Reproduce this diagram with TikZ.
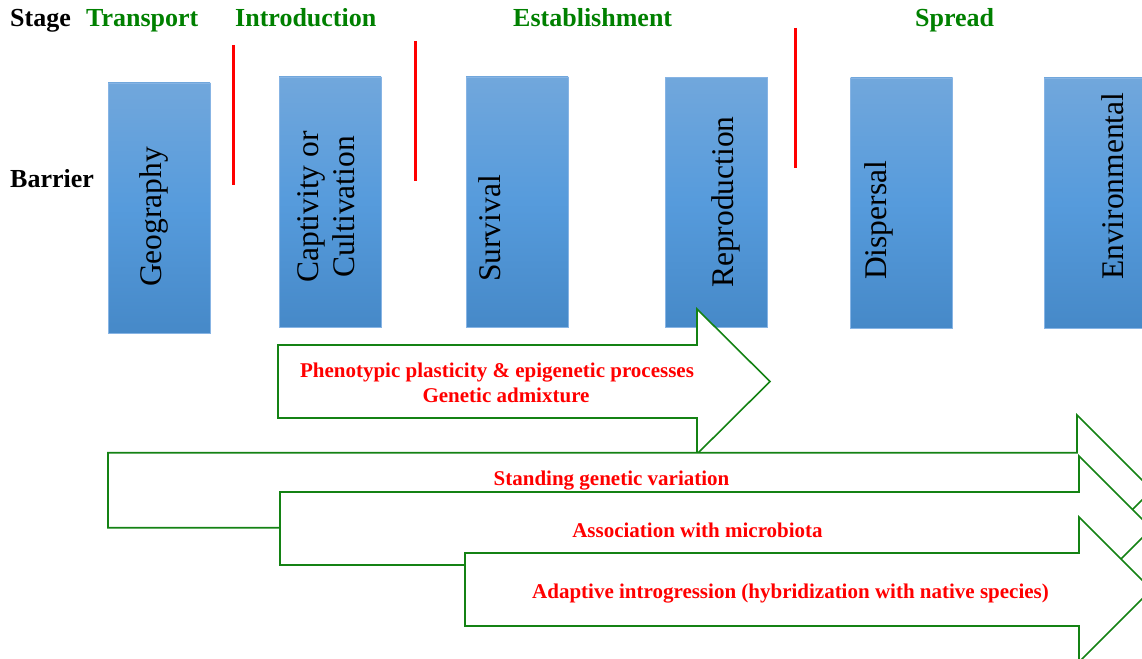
\documentclass[tikz,border=0pt]{standalone}
\usepackage{fontspec}
\setmainfont{Liberation Serif}
\definecolor{arrgreen}{RGB}{20,130,20}
\definecolor{titlegreen}{RGB}{0,128,0}
\definecolor{boxtop}{RGB}{113,167,220}
\definecolor{boxmid}{RGB}{86,155,220}
\definecolor{boxbot}{RGB}{70,137,200}
\definecolor{boxline}{RGB}{135,180,228}
\tikzset{
  barbox/.style={draw=boxline, line width=0.8pt, top color=boxtop, bottom color=boxbot, middle color=boxmid,
    minimum width=102pt, minimum height=250pt, inner sep=0pt},
  bartext/.style={rotate=90, anchor=base west, inner sep=0pt, font=\fontsize{31.5}{36}\selectfont},
  headtext/.style={anchor=base west, inner sep=0pt, font=\bfseries\fontsize{26}{30}\selectfont},
  stagetext/.style={headtext, text=titlegreen},
  redtext/.style={anchor=base, inner sep=0pt, font=\bfseries\fontsize{21}{25}\selectfont, text=red},
  bigarrow/.style={draw=arrgreen, line width=1.6pt, fill=white, line join=miter},
  divider/.style={draw=red, line width=3pt}
}
\begin{document}
\begin{tikzpicture}[x=1pt,y=-1pt]
\useasboundingbox (0,0) rectangle (1142,658);
\clip (0,0) rectangle (1142,658);

% headers
\node[headtext] (stage) at (10,27) {Stage};
\node[stagetext] (transport) at (86,27) {Transport};
\node[stagetext] (intro) at (235,27) {Introduction};
\node[stagetext] (estab) at (513,27) {Establishment};
\node[stagetext] (spread) at (915,27) {Spread};
\node[headtext] (barrier) at (10,187) {Barrier};

% dividers
\coordinate (d1a) at (233,45);  \coordinate (d1b) at (233,185);
\coordinate (d2a) at (415,41);  \coordinate (d2b) at (415,181);
\coordinate (d3a) at (795,28);  \coordinate (d3b) at (795,168);
\draw[divider] (d1a) -- (d1b);
\draw[divider] (d2a) -- (d2b);
\draw[divider] (d3a) -- (d3b);

% barrier boxes
\node[barbox] (geo) at (159,208) {};
\node[barbox] (cap) at (330,202) {};
\node[barbox] (sur) at (517,202) {};
\node[barbox] (rep) at (716,202.5) {};
\node[barbox] (dis) at (901.5,203) {};
\node[barbox] (env) at (1095,203) {};

\node[bartext] (geoT) at (161,287) {Geography};
\node[bartext, anchor=base, align=center] (capT) at (354,207) {Captivity or\\Cultivation};
\node[bartext] (surT) at (500,282) {Survival};
\node[bartext] (repT) at (733,288) {Reproduction};
\node[bartext] (disT) at (886,280) {Dispersal};
\node[bartext] (envT) at (1123,280) {Environmental};

% arrows
\draw[bigarrow] (278,345) -- (697,345) -- (697,309) -- (770,381.5) -- (697,454) -- (697,418) -- (278,418) -- cycle;
\draw[bigarrow] (108,452.7) -- (1077,452.7) -- (1077,415) -- (1152,490) -- (1077,565) -- (1077,527.7) -- (108,527.7) -- cycle;
\draw[bigarrow] (280,492) -- (1079,492) -- (1079,456) -- (1151.5,528.5) -- (1079,601) -- (1079,565) -- (280,565) -- cycle;
\draw[bigarrow] (465,553) -- (1079,553) -- (1079,517) -- (1151.5,589.5) -- (1079,662) -- (1079,626) -- (465,626) -- cycle;

% arrow texts
\node[redtext] (phen) at (497,377) {Phenotypic plasticity \& epigenetic processes};
\node[redtext] (admix) at (506,402) {Genetic admixture};
\node[redtext] (stand) at (611.5,485) {Standing genetic variation};
\node[redtext] (assoc) at (697.5,537) {Association with microbiota};
\node[redtext] (adapt) at (790.5,598) {Adaptive introgression (hybridization with native species)};
\end{tikzpicture}
\end{document}
